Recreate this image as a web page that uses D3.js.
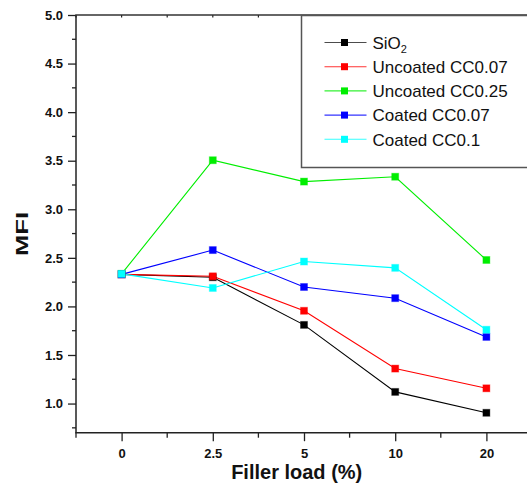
<!DOCTYPE html>
<html>
<head>
<meta charset="utf-8">
<script src="https://cdn.jsdelivr.net/npm/d3@7/dist/d3.min.js"></script>
<style>
  html, body { margin: 0; padding: 0; background: #fff; }
  svg { display: block; font-family: "Liberation Sans", Arial, sans-serif; }
</style>
</head>
<body>
<svg id="chart" width="527" height="486"></svg>
<script>
// ---- data ----
const categories = ["0", "2.5", "5", "10", "20"];
const seriesNames = ["SiO2", "Uncoated CC0.07", "Uncoated CC0.25", "Coated CC0.07", "Coated CC0.1"];
const seriesColors = ["#000000", "#ff0000", "#00ee00", "#0000ff", "#00ffff"];
const sio2 = [2.33, 2.30, 1.81, 1.12, 0.905];
const uncoated007 = [2.33, 2.31, 1.955, 1.36, 1.157];
const uncoated025 = [2.335, 3.505, 3.285, 3.335, 2.478];
const coated007 = [2.33, 2.58, 2.20, 2.085, 1.686];
const coated01 = [2.335, 2.19, 2.462, 2.397, 1.76];
const yTickValues = [1.0, 1.5, 2.0, 2.5, 3.0, 3.5, 4.0, 4.5, 5.0];
const yMinorValues = [0.75, 1.25, 1.75, 2.25, 2.75, 3.25, 3.75, 4.25, 4.75];

const seriesValues = [sio2, uncoated007, uncoated025, coated007, coated01];

(function () {
const svg = d3.select("#chart");
const mLeft = 76, mTop = 15, mBottom = 432.7;
const x = d3.scaleLinear().domain([-0.5, 4.5]).range([mLeft, 532]);
const y = d3.scaleLinear().domain([0.70, 5.0]).range([mBottom, mTop]);

const axisColor = "#222";

// series lines
const line = d3.line().x((d, i) => x(i)).y(d => y(d));
seriesValues.forEach((vals, s) => {
  svg.append("path")
    .attr("d", line(vals))
    .attr("fill", "none")
    .attr("stroke", seriesColors[s])
    .attr("stroke-width", 1.1);
});
seriesValues.forEach((vals, s) => {
  svg.append("g").selectAll("rect").data(vals).join("rect")
    .attr("x", (d, i) => x(i) - 3.5)
    .attr("y", d => y(d) - 3.5)
    .attr("width", 7).attr("height", 7)
    .attr("fill", seriesColors[s])
    .attr("stroke", seriesColors[s]).attr("stroke-opacity", 0.35).attr("stroke-width", 1);
});

// left axis
const yAxis = d3.axisLeft(y).tickValues(yTickValues).tickSize(8).tickPadding(5)
  .tickFormat(d3.format(".1f"));
const gy = svg.append("g").attr("transform", `translate(${mLeft},0)`).call(yAxis);
gy.select(".domain").remove();
gy.append("g").selectAll("line").data(yMinorValues).join("line")
  .attr("x1", -4).attr("x2", 0).attr("y1", d => y(d)).attr("y2", d => y(d));
gy.selectAll("line").attr("stroke", axisColor).attr("stroke-width", 1.3);
gy.selectAll("text").attr("font-size", 13).attr("font-weight", "bold").attr("fill", "#111");

// bottom axis
const xMajor = d3.range(0, 5);
const xMinor = d3.range(-0.5, 5, 1);
const xAxis = d3.axisBottom(x).tickValues(xMajor).tickSize(8.5).tickPadding(8)
  .tickFormat(i => categories[i]);
const gx = svg.append("g").attr("transform", `translate(0,${mBottom})`).call(xAxis);
gx.select(".domain").remove();
gx.append("g").selectAll("line").data(xMinor).join("line")
  .attr("x1", d => x(d)).attr("x2", d => x(d)).attr("y1", 0).attr("y2", 5);
gx.selectAll("line").attr("stroke", axisColor).attr("stroke-width", 1.3);
gx.selectAll("text").attr("font-size", 13).attr("font-weight", "bold").attr("fill", "#111");

// top axis ticks (inward)
const gt = svg.append("g");
gt.selectAll("line").data(d3.range(-0.5, 4.6, 0.5)).join("line")
  .attr("x1", d => x(d)).attr("x2", d => x(d)).attr("y1", mTop).attr("y2", mTop + 2.5)
  .attr("stroke", axisColor).attr("stroke-width", 1.2);

// frame lines
svg.append("line").attr("x1", mLeft).attr("x2", mLeft).attr("y1", mTop).attr("y2", mBottom)
  .attr("stroke", axisColor).attr("stroke-width", 1.5);
svg.append("line").attr("x1", mLeft - 0.75).attr("x2", 532).attr("y1", mBottom).attr("y2", mBottom)
  .attr("stroke", axisColor).attr("stroke-width", 1.5);
svg.append("line").attr("x1", mLeft - 0.75).attr("x2", 532).attr("y1", mTop).attr("y2", mTop)
  .attr("stroke", "#333").attr("stroke-width", 1.6);

// axis titles
svg.append("text").attr("x", 296.7).attr("y", 479).attr("text-anchor", "middle")
  .attr("font-size", 20).attr("font-weight", "bold").attr("fill", "#111").text("Filler load (%)");
svg.append("text").attr("transform", "translate(28,234) rotate(-90)").attr("text-anchor", "middle")
  .attr("font-size", 16).attr("font-weight", "bold").attr("fill", "#111")
  .attr("textLength", 44).attr("lengthAdjust", "spacingAndGlyphs").text("MFI");

// legend
const lg = svg.append("g");
lg.append("rect").attr("x", 301.5).attr("y", mTop + 0.5).attr("width", 240).attr("height", 152)
  .attr("fill", "#fff").attr("stroke", "#555").attr("stroke-width", 1.5);
const rowY = i => 42.5 + i * 24.2;
seriesNames.forEach((name, i) => {
  const ry = rowY(i);
  lg.append("line").attr("x1", 324.5).attr("x2", 366.5).attr("y1", ry).attr("y2", ry)
    .attr("stroke", seriesColors[i]).attr("stroke-width", 1.1).attr("stroke-opacity", i === 0 ? 0.7 : 0.8);
  lg.append("rect").attr("x", 344.5 - 3.5).attr("y", ry - 3.5).attr("width", 7).attr("height", 7)
    .attr("fill", seriesColors[i]);
  const t = lg.append("text").attr("x", 372.5).attr("y", ry + 6.2)
    .attr("font-size", 17).attr("fill", "#111");
  if (name === "SiO2") {
    t.append("tspan").text("SiO");
    t.append("tspan").attr("font-size", 11).attr("dy", 4).text("2");
  } else {
    t.text(name);
  }
});
})();
</script>
</body>
</html>
